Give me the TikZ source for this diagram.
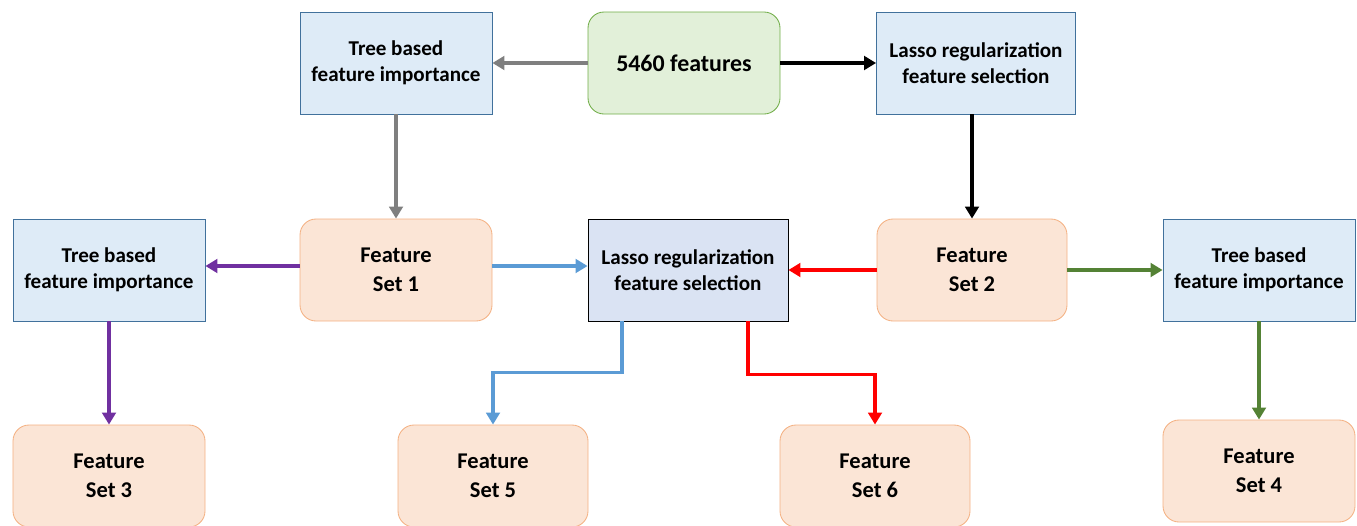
\documentclass[tikz,border=0pt]{standalone}
\usepackage{fontspec}
\setmainfont{Carlito}
\usetikzlibrary{positioning,arrows.meta,shapes}

\definecolor{selfill}{HTML}{DEEBF7}
\definecolor{seldraw}{HTML}{41719C}
\definecolor{midfill}{HTML}{DAE3F3}
\definecolor{srcfill}{HTML}{E2F0D9}
\definecolor{srcdraw}{HTML}{70AD47}
\definecolor{setfill}{HTML}{FBE5D6}
\definecolor{setdraw}{HTML}{F4B183}
\definecolor{arrgray}{HTML}{7F7F7F}
\definecolor{arrpurple}{HTML}{7030A0}
\definecolor{arrblue}{HTML}{5B9BD5}
\definecolor{arrred}{HTML}{FF0000}
\definecolor{arrgreen}{HTML}{548235}

\begin{document}
\begin{tikzpicture}[
  x=0.25mm, y=-0.25mm,
  font=\bfseries\fontsize{15}{18.5}\selectfont,
  box/.style={rectangle, line width=0.6pt, minimum height=25.5mm, inner sep=2pt, align=center},
  sel/.style={box, fill=selfill, draw=seldraw, minimum width=48mm},
  mid/.style={box, fill=midfill, draw=black, minimum width=50mm},
  src/.style={box, rounded corners=4mm, fill=srcfill, draw=srcdraw, minimum width=48mm,
              font=\bfseries\fontsize{17}{20}\selectfont},
  fset/.style={box, rounded corners=4mm, fill=setfill, draw=setdraw, minimum width=48mm,
               font=\bfseries\fontsize{16}{20.5}\selectfont},
  arr/.style={-{Triangle[length=3mm,width=3.4mm]}, line width=0.9mm}
]
\useasboundingbox (0,0) rectangle (1357,525);

\node[src]  (feat)   at (684,63)  {5460 features};
\node[sel]  (treeT)  at (396,63)  {Tree based\\feature importance};
\node[sel, minimum width=49.75mm] (lassoT) at (976,63) {Lasso regularization\\feature selection};

\node[fset] (set1)   at (396,270) {Feature\\Set 1};
\node[mid]  (lassoM) at (688,270) {Lasso regularization\\feature selection};
\node[fset, minimum width=47.5mm] (set2) at (972,270) {Feature\\Set 2};
\node[sel]  (treeL)  at (109,270) {Tree based\\feature importance};
\node[sel]  (treeR)  at (1259,270) {Tree based\\feature importance};

\node[fset] (set3)   at (109,476) {Feature\\Set 3};
\node[fset, minimum width=47.5mm] (set5) at (493,476) {Feature\\Set 5};
\node[fset, minimum width=47.5mm] (set6) at (875,476) {Feature\\Set 6};
\node[fset] (set4)   at (1259,471) {Feature\\Set 4};

% top row
\draw[arr, arrgray] (feat.west) -- (treeT.east);
\draw[arr, black]   (feat.east) -- (lassoT.west);
\draw[arr, arrgray] (treeT.south) -- (set1.north);
\draw[arr, black]   (lassoT.south -| set2.north) -- (set2.north);

% middle row
\draw[arr, arrpurple] ([yshift=1mm]set1.west) -- ([yshift=1mm]set1.west -| treeL.east);
\draw[arr, arrblue]   ([yshift=1mm]set1.east) -- ([yshift=1mm]set1.east -| lassoM.west);
\draw[arr, arrred]    (set2.west) -- (set2.west -| lassoM.east);
\draw[arr, arrgreen]  (set2.east) -- (set2.east -| treeR.west);

% bottom row
\draw[arr, arrpurple] (treeL.south) -- (set3.north);
\draw[arr, arrgreen]  (treeR.south) -- (set4.north);
\draw[arr, arrblue]   ([xshift=-16.5mm]lassoM.south) -- ++(0,51) -| (set5.north);
\draw[arr, arrred]    ([xshift=15mm]lassoM.south) -- ++(0,53) -| (set6.north);
\end{tikzpicture}
\end{document}
